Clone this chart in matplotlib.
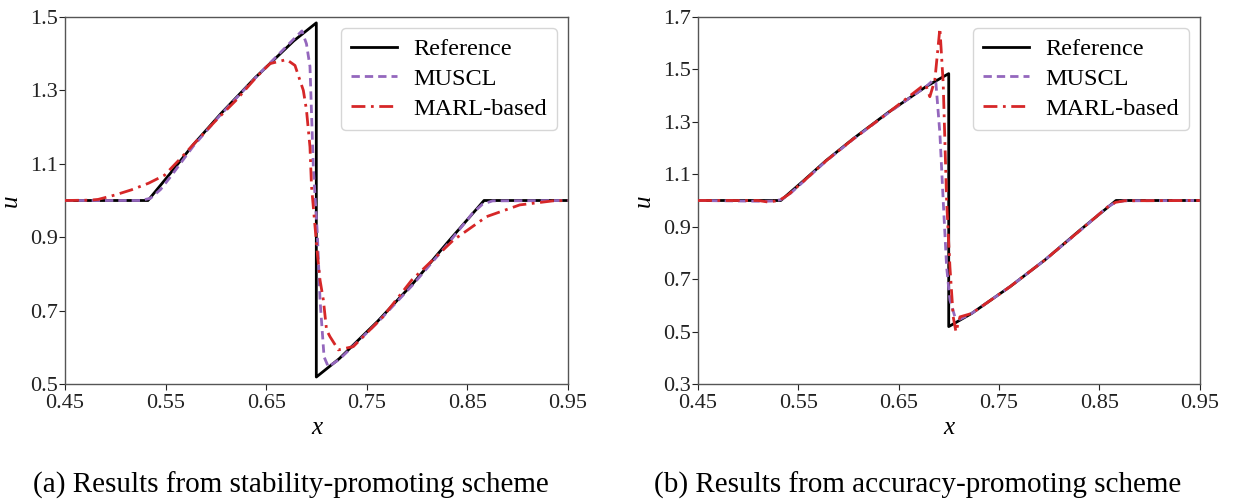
import matplotlib
matplotlib.use("Agg")
import matplotlib.pyplot as plt

# ---------------- data ----------------
ref_x = [0.45, 0.5325, 0.555, 0.5775, 0.6044, 0.6392, 0.6774, 0.6998, 0.6998,
         0.7226, 0.7608, 0.7956, 0.83, 0.8665, 0.95]
ref_u = [1.0, 1.0, 1.075, 1.152, 1.235, 1.335, 1.435, 1.484, 0.519,
         0.569, 0.671, 0.773, 0.885, 1.0, 1.0]

# (a) stability-promoting scheme
muscl_a_x = [0.45, 0.525, 0.535, 0.545, 0.555, 0.5775, 0.6044, 0.6392, 0.6774,
             0.6855, 0.690, 0.6935, 0.6968, 0.7008, 0.7035, 0.7075, 0.7117,
             0.7226, 0.7608, 0.7956, 0.83, 0.855, 0.865, 0.875, 0.95]
muscl_a_u = [1.0, 1.0, 1.006, 1.03, 1.065, 1.148, 1.233, 1.334, 1.44,
             1.462, 1.427, 1.365, 1.092, 0.911, 0.729, 0.574, 0.547,
             0.567, 0.668, 0.77, 0.88, 0.965, 0.99, 0.999, 1.0]

marl_a_x = [0.45, 0.475, 0.483, 0.4997, 0.516, 0.533, 0.549, 0.566, 0.58, 0.60,
            0.62, 0.6405, 0.6538, 0.6703, 0.6786, 0.6869, 0.690, 0.6935, 0.695,
            0.7008, 0.7035, 0.7068, 0.710, 0.7134, 0.7217, 0.7366, 0.766,
            0.7946, 0.836, 0.869, 0.902, 0.935, 0.95]
marl_a_u = [1.0, 1.001, 1.003, 1.015, 1.029, 1.047, 1.069, 1.118, 1.16, 1.218,
            1.273, 1.337, 1.373, 1.384, 1.368, 1.300, 1.247, 1.146, 1.04,
            0.857, 0.783, 0.729, 0.647, 0.629, 0.593, 0.602, 0.683,
            0.783, 0.892, 0.956, 0.988, 0.999, 1.0]

# (b) accuracy-promoting scheme
muscl_b_x = [0.45, 0.515, 0.525, 0.5325, 0.54, 0.555, 0.5775, 0.6044, 0.6392,
             0.6774, 0.684, 0.687, 0.691, 0.6943, 0.6977, 0.701, 0.706, 0.711,
             0.7226, 0.7608, 0.7956, 0.83, 0.858, 0.866, 0.875, 0.95]
muscl_b_u = [1.0, 0.997, 0.998, 1.003, 1.02, 1.072, 1.15, 1.233, 1.333,
             1.435, 1.458, 1.45, 1.256, 1.0, 0.747, 0.62, 0.556, 0.547,
             0.569, 0.671, 0.773, 0.883, 0.975, 0.993, 0.999, 1.0]

marl_b_x = [0.45, 0.51, 0.52, 0.527, 0.5325, 0.54, 0.555, 0.5775, 0.6044,
            0.6392, 0.6728, 0.677, 0.681, 0.686, 0.691, 0.6943, 0.6977, 0.701,
            0.7043, 0.707, 0.711, 0.7226, 0.7608, 0.7956, 0.83, 0.858, 0.866,
            0.875, 0.95]
marl_b_u = [1.0, 1.0, 0.994, 0.998, 1.004, 1.022, 1.073, 1.151, 1.234,
            1.334, 1.434, 1.44, 1.396, 1.46, 1.657, 1.447, 1.0, 0.747,
            0.556, 0.499, 0.556, 0.569, 0.671, 0.773, 0.884, 0.975, 0.993,
            0.999, 1.0]

x_ticks = [0.45, 0.55, 0.65, 0.75, 0.85, 0.95]
y_ticks_a = [0.5, 0.7, 0.9, 1.1, 1.3, 1.5]
y_ticks_b = [0.3, 0.5, 0.7, 0.9, 1.1, 1.3, 1.5, 1.7]
labels = ["Reference", "MUSCL", "MARL-based"]
captions = ["(a) Results from stability-promoting scheme",
            "(b) Results from accuracy-promoting scheme"]

# ---------------- style ----------------
plt.rcParams['font.family'] = ['Liberation Serif', 'DejaVu Serif']
FS = 16
C_REF = 'black'
C_MUSCL = '#9467bd'
C_MARL = '#d62728'

fig = plt.figure(figsize=(12.33, 5.0), dpi=100)
ax_a = fig.add_axes([0.0527, 0.232, 0.408, 0.734])
ax_b = fig.add_axes([0.5661, 0.232, 0.407, 0.734])

panels = [
    (ax_a, muscl_a_x, muscl_a_u, marl_a_x, marl_a_u, y_ticks_a, 0.236),
    (ax_b, muscl_b_x, muscl_b_u, marl_b_x, marl_b_u, y_ticks_b, 0.744),
]

for i, (ax, mx, mu, rx, ru, yt, cx) in enumerate(panels):
    ax.plot(ref_x, ref_u, color=C_REF, lw=2.0, label=labels[0], zorder=3)
    ax.plot(mx, mu, color=C_MUSCL, lw=2.0, ls=(0, (3.0, 1.8)), label=labels[1], zorder=4)
    ax.plot(rx, ru, color=C_MARL, lw=2.0, ls=(0, (5, 2, 1, 2)), label=labels[2], zorder=5)
    ax.set_xlim(0.45, 0.95)
    ax.set_ylim(yt[0], yt[-1])
    ax.set_xticks(x_ticks)
    ax.set_xticklabels([f"{v:.2f}" for v in x_ticks])
    ax.set_yticks(yt)
    ax.set_yticklabels([f"{v:.1f}" for v in yt])
    ax.tick_params(labelsize=FS, direction='out', length=4, width=0.8,
                   colors='#222222')
    ax.tick_params(axis='x', pad=3)
    ax.tick_params(axis='y', pad=1)
    for s in ax.spines.values():
        s.set_color('#555555')
        s.set_linewidth(1.0)
    ax.set_xlabel('x', fontsize=FS + 2, fontstyle='italic', labelpad=3)
    ax.set_ylabel('u', fontsize=FS + 2, fontstyle='italic', labelpad=6)
    leg = ax.legend(loc='upper right', fontsize=FS + 1.5, frameon=True, fancybox=True,
                    handlelength=1.9, borderpad=0.42, labelspacing=0.32,
                    handletextpad=0.65, borderaxespad=0.45)
    leg.get_frame().set_edgecolor('#cccccc')
    leg.get_frame().set_linewidth(1.0)
    fig.text(cx, 0.03, captions[i], ha='center', va='center', fontsize=21)

fig.savefig('out.png', dpi=100)
